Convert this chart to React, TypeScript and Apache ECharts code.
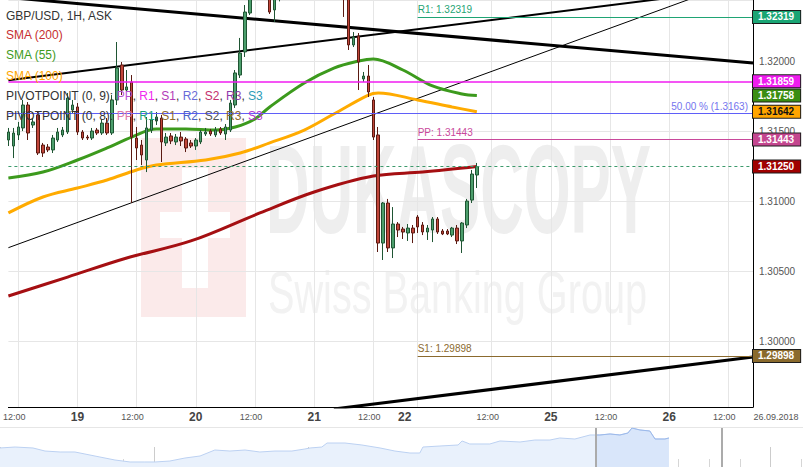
import React, { useEffect, useRef } from "react";
import * as echarts from "echarts";

const FONT = 'Arial, "Liberation Sans", Helvetica, sans-serif';

// Price window of the main pane
const PRICE_MIN = 1.29533;
const PRICE_MAX = 1.3244;

// Hourly slots on the main time axis (weekend hours removed)
const SLOT_COUNT = 152;
const LAST_SLOT = SLOT_COUNT - 1;
const slots = Array.from({ length: SLOT_COUNT }, (_, i) => String(i));

const tickSlots = [2, 14, 26, 38, 50, 62, 74, 83, 98, 110, 122, 134, 146];
const tickLabels = ["12:00", "19", "12:00", "20", "12:00", "21", "12:00", "22", "12:00", "25", "12:00", "26", "12:00"];
const dateStamp = "26.09.2018";

// GBP/USD 1H candles: [open, close, low, high]
const candles = [
  [1.3144, 1.31497, 1.31397, 1.31526],
  [1.31397, 1.3149, 1.31311, 1.31526],
  [1.31476, 1.31533, 1.3144, 1.31569],
  [1.31526, 1.3169, 1.31504, 1.31726],
  [1.3169, 1.3149, 1.3144, 1.31711],
  [1.31547, 1.31569, 1.31526, 1.31597],
  [1.31619, 1.31347, 1.31333, 1.3164],
  [1.31404, 1.31347, 1.31319, 1.31419],
  [1.3139, 1.31369, 1.31354, 1.31411],
  [1.31369, 1.31454, 1.31347, 1.31476],
  [1.3144, 1.31497, 1.31426, 1.31526],
  [1.31476, 1.31511, 1.31461, 1.31533],
  [1.31497, 1.3174, 1.31483, 1.31776],
  [1.31654, 1.3169, 1.31633, 1.31726],
  [1.31676, 1.31497, 1.31476, 1.31704],
  [1.31497, 1.31454, 1.3144, 1.31511],
  [1.31461, 1.31454, 1.3144, 1.31476],
  [1.31454, 1.31504, 1.3144, 1.31526],
  [1.31511, 1.3149, 1.31476, 1.31526],
  [1.3149, 1.31561, 1.31476, 1.31583],
  [1.31561, 1.3149, 1.31476, 1.31597],
  [1.3149, 1.31726, 1.31476, 1.31761],
  [1.31726, 1.31954, 1.3169, 1.3214],
  [1.31976, 1.31797, 1.31761, 1.31997],
  [1.31797, 1.31819, 1.31783, 1.3194],
  [1.31854, 1.31461, 1.3099, 1.31904],
  [1.31454, 1.31383, 1.31297, 1.31533],
  [1.31404, 1.31333, 1.31261, 1.3144],
  [1.31297, 1.31526, 1.31211, 1.31604],
  [1.31511, 1.31583, 1.3149, 1.31633],
  [1.31576, 1.31604, 1.31547, 1.3164],
  [1.31597, 1.31426, 1.31283, 1.31619],
  [1.31419, 1.31461, 1.31397, 1.3149],
  [1.31469, 1.31433, 1.31411, 1.3149],
  [1.31426, 1.31461, 1.31404, 1.31483],
  [1.31461, 1.31433, 1.31397, 1.31497],
  [1.31447, 1.31383, 1.31354, 1.31461],
  [1.31419, 1.31397, 1.31383, 1.3144],
  [1.31397, 1.3144, 1.31369, 1.31454],
  [1.31426, 1.31497, 1.31411, 1.31511],
  [1.31483, 1.31497, 1.31469, 1.31526],
  [1.31504, 1.31483, 1.31469, 1.31519],
  [1.31476, 1.31511, 1.31461, 1.31533],
  [1.31519, 1.3149, 1.31476, 1.31533],
  [1.31483, 1.31533, 1.3144, 1.31554],
  [1.31511, 1.31704, 1.31497, 1.31726],
  [1.3169, 1.31919, 1.31669, 1.3194],
  [1.31904, 1.32061, 1.31883, 1.32169],
  [1.32069, 1.32354, 1.32033, 1.32404],
  [1.32347, 1.32476, 1.32333, 1.32583],
  [1.32476, 1.3262, 1.3245, 1.3268],
  [1.3262, 1.3275, 1.3259, 1.328],
  [1.3275, 1.32511, 1.3249, 1.3279],
  [1.32511, 1.32354, 1.3234, 1.32619],
  [1.32369, 1.32454, 1.32283, 1.32526],
  [1.32454, 1.3256, 1.3243, 1.3261],
  [1.3256, 1.327, 1.3254, 1.3274],
  [1.327, 1.3285, 1.3268, 1.329],
  [1.3285, 1.3293, 1.328, 1.3298],
  [1.3293, 1.3281, 1.3278, 1.3296],
  [1.3281, 1.3275, 1.327, 1.3286],
  [1.3275, 1.3268, 1.3264, 1.3279],
  [1.3268, 1.3272, 1.3265, 1.3277],
  [1.3272, 1.326, 1.3257, 1.3275],
  [1.326, 1.3255, 1.325, 1.3264],
  [1.3255, 1.3262, 1.3252, 1.3266],
  [1.3262, 1.3258, 1.3254, 1.3265],
  [1.3258, 1.3262, 1.3253, 1.3268],
  [1.3262, 1.325, 1.32319, 1.3265],
  [1.32497, 1.32119, 1.32083, 1.32511],
  [1.32119, 1.32176, 1.32104, 1.32211],
  [1.32183, 1.31997, 1.31797, 1.32204],
  [1.31876, 1.31897, 1.31854, 1.31926],
  [1.31897, 1.31783, 1.31747, 1.31976],
  [1.31726, 1.31461, 1.3144, 1.31747],
  [1.31476, 1.30704, 1.3064, 1.31533],
  [1.30704, 1.3099, 1.30583, 1.30997],
  [1.3099, 1.30669, 1.3064, 1.31019],
  [1.30669, 1.3084, 1.30597, 1.30961],
  [1.3084, 1.30797, 1.30747, 1.30854],
  [1.30804, 1.30783, 1.30733, 1.30819],
  [1.30776, 1.30811, 1.30719, 1.3084],
  [1.30811, 1.30776, 1.30704, 1.30833],
  [1.3089, 1.30819, 1.30776, 1.30904],
  [1.30833, 1.30783, 1.30761, 1.30854],
  [1.30783, 1.30811, 1.30726, 1.30833],
  [1.30797, 1.30876, 1.30711, 1.3089],
  [1.30876, 1.30783, 1.30769, 1.3089],
  [1.3079, 1.30769, 1.30761, 1.30804],
  [1.3079, 1.30769, 1.30761, 1.30804],
  [1.30761, 1.30811, 1.30747, 1.30819],
  [1.30811, 1.30719, 1.30697, 1.30833],
  [1.30719, 1.30847, 1.30633, 1.30854],
  [1.30833, 1.31004, 1.30811, 1.31019],
  [1.31011, 1.31197, 1.3099, 1.31226],
  [1.3119, 1.3125, 1.31097, 1.31276],
];

// Moving averages as [slot, price]
const sma200Points = [
  [0, 1.30326], [12, 1.30461], [24, 1.30597], [37, 1.30719], [51, 1.30919],
  [62, 1.31069], [74, 1.31183], [84, 1.31211], [95, 1.3125],
];
const sma55Points = [
  [0, 1.31169], [7, 1.31211], [14, 1.31297], [20, 1.31383], [25, 1.31461], [30, 1.31519],
  [36, 1.31519], [42, 1.31511], [46, 1.31533], [50, 1.3159], [53, 1.31676], [60, 1.31847],
  [66, 1.31954], [71, 1.32004], [74, 1.32019], [80, 1.3194], [86, 1.31826], [92, 1.31769],
  [95, 1.31758],
];
const sma100Points = [
  [0, 1.30919], [7, 1.31033], [14, 1.31097], [20, 1.31154], [26, 1.31226], [30, 1.31261],
  [40, 1.31297], [47, 1.31347], [53, 1.31419], [60, 1.31511], [66, 1.31626], [73, 1.31761],
  [75, 1.31776], [83, 1.31726], [90, 1.31676], [95, 1.31642],
];

// Hand-drawn trend lines as [slot, price] end points
const trendUpperThick = [[0, 1.32458], [LAST_SLOT, 1.3199]];
const trendUpperMedium = [[0, 1.31867], [LAST_SLOT, 1.3253]];
const trendChannelThin = [[0, 1.30671], [LAST_SLOT, 1.32611]];
const trendLowerThick = [[66, 1.29519], [LAST_SLOT, 1.2989]];

// Horizontal levels
const PIVOT_START = 83;
const LEVEL_R1 = 1.32319;
const LEVEL_PP = 1.31443;
const LEVEL_S1 = 1.29898;
const LEVEL_PIVOT_OLD = 1.31859;
const LEVEL_FIB50 = 1.3163;
const LAST_PRICE = 1.3125;

// Navigator history: trading day -> price
const navDays = [
  0, 0.49, 1.07, 1.46, 1.95, 2.43, 3.24, 3.73, 4.22, 4.7, 5.03, 5.51, 6.0, 6.49, 6.97, 7.46,
  7.95, 8.43, 8.92, 9.47, 9.89, 10.06, 10.44, 10.61, 11.19, 11.74, 12.33, 12.81, 13.3, 13.62,
  13.72, 14.27, 14.86, 14.99, 15.24, 15.89, 16.22, 16.87, 17.35, 17.84, 18.16, 18.65, 19.14,
  19.33, 19.46, 19.79, 20.11, 20.37, 20.5, 20.76, 21.08, 21.25, 21.57, 21.7,
];
const navPrices = [
  1.2926, 1.2944, 1.2926, 1.2869, 1.2851, 1.2851, 1.2757, 1.2701, 1.2664, 1.2664, 1.2664,
  1.2682, 1.2738, 1.2776, 1.2888, 1.2869, 1.2888, 1.2851, 1.2869, 1.2869, 1.2907, 1.2926,
  1.2944, 1.3019, 1.3019, 1.2982, 1.2926, 1.2869, 1.2832, 1.2832, 1.2944, 1.2963, 1.2982,
  1.3057, 1.3001, 1.3001, 1.3057, 1.3038, 1.3075, 1.3075, 1.3113, 1.3094, 1.3169, 1.3169,
  1.3169, 1.3188, 1.3169, 1.3206, 1.33, 1.3263, 1.3244, 1.3094, 1.3094, 1.3113,
];
const NAV_WINDOW_START = 19.33;
const NAV_WINDOW_END = 23.42;
const NAV_DAY_MAX = 26.05;

const last = (pts: number[][]) => pts[pts.length - 1][1];

function buildOption() {
  const navPoints = navDays.map((d, i) => [d, navPrices[i]]);
  const navWindow = navPoints.filter((p) => p[0] >= NAV_WINDOW_START);

  const tag = (value: number, bg: string, color = "#fff") => ({
    yAxis: value,
    lineStyle: { color: "rgba(0,0,0,0)", width: 1 },
    label: {
      show: true,
      position: "end",
      distance: 0,
      formatter: value.toFixed(5),
      backgroundColor: bg,
      color,
      borderColor: "#1c1c1c",
      borderWidth: 1,
      padding: [1, 6, 0, 5],
      fontSize: 10,
      lineHeight: 11,
      fontWeight: "bold",
      fontFamily: FONT,
    },
  });
  const pivotSegment = (value: number, color: string, name: string) => [
    {
      coord: [PIVOT_START, value],
      lineStyle: { color, width: 1, type: "solid" },
      label: {
        show: true,
        position: "insideStartTop",
        distance: [0, 2],
        formatter: `${name}: ${value.toFixed(5)}`,
        color,
        fontSize: 10,
        fontFamily: FONT,
      },
    },
    { coord: [LAST_SLOT, value] },
  ];

  const legendRow = (top: number, text: string, color: string) => ({
    text,
    left: 6,
    top,
    padding: 0,
    textStyle: { fontSize: 12, fontWeight: "normal", color, fontFamily: FONT, lineHeight: 14 },
  });
  const pivotRow = (top: number, prefix: string, colors: string[]) => {
    const names = ["PP", "R1", "S1", "R2", "S2", "R3", "S3"];
    const rich: Record<string, any> = { a: { color: "#333", fontSize: 12, fontFamily: FONT, lineHeight: 14 } };
    names.forEach((_, i) => {
      rich["c" + i] = { color: colors[i], fontSize: 12, fontFamily: FONT, lineHeight: 14 };
    });
    const text = "{a|" + prefix + "}" + names.map((n, i) => `{c${i}|${n}}`).join("{a|, }");
    return { text, left: 6, top, padding: 0, textStyle: { fontSize: 12, fontWeight: "normal", rich } };
  };

  const trend = (data: number[][], width: number) => ({
    type: "line",
    data,
    showSymbol: false,
    symbol: "none",
    silent: true,
    z: 3,
    lineStyle: { color: "#000", width },
  });
  const sma = (data: number[][], color: string) => ({
    type: "line",
    data,
    smooth: 0.35,
    showSymbol: false,
    symbol: "none",
    silent: true,
    z: 3,
    lineStyle: { color, width: 3 },
  });

  return {
    animation: false,
    textStyle: { fontFamily: FONT },
    title: [
      legendRow(9, "GBP/USD, 1H, ASK", "#333"),
      legendRow(28, "SMA (200)", "#c62f2f"),
      legendRow(48, "SMA (55)", "#3e9b1c"),
      legendRow(69, "SMA (100)", "#ffa500"),
      pivotRow(89, "PIVOTPOINT (0, 9): ", ["#b84fd4", "#f028f0", "#b23bb8", "#6a6ad8", "#c42f6d", "#8e3caa", "#2b9cb8"]),
      pivotRow(109, "PIVOTPOINT (0, 8): ", ["#e07aa8", "#1aa37a", "#8b6a2e", "#4d62c2", "#555555", "#8b6a2e", "#b23cd0"]),
    ],
    graphic: [
      // watermark
      { type: "rect", z: -2, silent: true, shape: { x: 141, y: 138, width: 105, height: 179 }, style: { fill: "#fbeaea" } },
      { type: "rect", z: -2, silent: true, shape: { x: 182, y: 168, width: 26, height: 120 }, style: { fill: "#ffffff" } },
      { type: "rect", z: -2, silent: true, shape: { x: 160, y: 212, width: 70, height: 26 }, style: { fill: "#ffffff" } },
      {
        type: "text", z: -1, silent: true, x: 266, y: 190, scaleX: 0.478,
        style: { text: "DUKASCOPY", font: `bold 126px ${FONT}`, fill: "#eeeeee", textAlign: "left", verticalAlign: "middle", textVerticalAlign: "middle" },
      },
      {
        type: "text", z: -1, silent: true, x: 268, y: 292, scaleX: 0.661,
        style: { text: "Swiss Banking Group", font: `60px ${FONT}`, fill: "#f2f2f2", textAlign: "left", verticalAlign: "middle", textVerticalAlign: "middle" },
      },
      {
        type: "text", silent: true, x: 776, y: 417,
        style: { text: dateStamp, font: `9px ${FONT}`, fill: "#555", textAlign: "center", verticalAlign: "middle", textVerticalAlign: "middle" },
      },
      { type: "line", silent: true, shape: { x1: 0, y1: 427.5, x2: 803, y2: 427.5 }, style: { stroke: "#e6e6e6", lineWidth: 1 } },
    ],
    grid: [
      { left: -2, right: 50, top: 0, bottom: 60 },
      { left: 0, right: 0, top: 428, height: 39 },
    ],
    xAxis: [
      {
        type: "category",
        gridIndex: 0,
        data: slots,
        boundaryGap: false,
        axisLine: { lineStyle: { color: "#000", width: 1 } },
        axisTick: { show: false },
        splitLine: {
          show: true,
          interval: (i: number) => tickSlots.includes(i),
          lineStyle: { color: "#e6e6e6", width: 1 },
        },
        axisLabel: {
          interval: (i: number) => tickSlots.includes(i),
          margin: 2,
          formatter: (_v: string, i: number) => {
            const k = tickSlots.indexOf(i);
            if (k < 0) return "";
            const t = tickLabels[k];
            if (t === "22") return `{d2|${t}}`;
            return t.includes(":") ? `{t|${t}}` : `{d|${t}}`;
          },
          rich: {
            d: { fontSize: 12, fontWeight: "bold", color: "#444", lineHeight: 16, fontFamily: FONT },
            d2: { fontSize: 12, fontWeight: "bold", color: "#444", lineHeight: 16, fontFamily: FONT, padding: [0, 26, 0, 0] },
            t: { fontSize: 9, color: "#555", lineHeight: 16, fontFamily: FONT, padding: [0, 8, 0, 0] },
          },
        },
      },
      {
        type: "value", gridIndex: 1, position: "bottom", min: 0, max: NAV_DAY_MAX, interval: 1,
        axisLine: { show: false }, axisLabel: { show: false }, splitLine: { show: false },
        axisTick: { show: true, inside: true, length: 8, lineStyle: { color: "#d6d6d6" } },
      },
      {
        type: "value", gridIndex: 1, position: "bottom", min: 0, max: NAV_DAY_MAX, interval: 5,
        axisLine: { show: false }, axisLabel: { show: false }, splitLine: { show: false },
        axisTick: { show: true, inside: true, length: 20, lineStyle: { color: "#cccccc" } },
      },
    ],
    yAxis: [
      {
        type: "value",
        gridIndex: 0,
        position: "right",
        min: PRICE_MIN,
        max: PRICE_MAX,
        axisLine: { show: true, lineStyle: { color: "#000", width: 1 } },
        axisTick: { show: false },
        splitLine: { lineStyle: { color: "#e6e6e6" } },
        axisLabel: {
          margin: 6,
          fontSize: 10,
          color: "#555",
          formatter: (v: number) => (Math.abs(v * 200 - Math.round(v * 200)) < 1e-6 ? v.toFixed(5) : ""),
        },
      },
      { type: "value", gridIndex: 1, min: 1.257, max: 1.33, show: false },
    ],
    series: [
      // level lines behind the price action
      {
        type: "line",
        data: [],
        silent: true,
        z: 1,
        markLine: {
          silent: true,
          precision: 5,
          symbol: ["none", "none"],
          animation: false,
          label: { show: false },
          data: [
            { yAxis: LEVEL_PIVOT_OLD, lineStyle: { color: "#f01cf0", width: 1.5, type: "solid" } },
            {
              yAxis: LEVEL_FIB50,
              lineStyle: { color: "#5f5ff8", width: 1, type: "solid" },
              label: {
                show: true,
                position: "insideEndTop",
                distance: [5, 2],
                formatter: `50.00 % (${LEVEL_FIB50.toFixed(4)})`,
                color: "#7474ee",
                fontSize: 10,
                fontFamily: FONT,
              },
            },
            { yAxis: LAST_PRICE, lineStyle: { color: "#3d9a6c", width: 1, type: [3, 3] } },
            pivotSegment(LEVEL_R1, "#1fa474", "R1"),
            pivotSegment(LEVEL_PP, "#c9489b", "PP"),
            pivotSegment(LEVEL_S1, "#8b6a2e", "S1"),
          ],
        },
      },
      trend(trendUpperThick, 3),
      trend(trendUpperMedium, 2),
      trend(trendChannelThin, 1),
      trend(trendLowerThick, 3),
      sma(sma200Points, "#a50f12"),
      sma(sma100Points, "#ffab00"),
      sma(sma55Points, "#3c9a1d"),
      {
        type: "candlestick",
        data: candles,
        barWidth: 3,
        silent: true,
        z: 4,
        itemStyle: {
          color: "#4c9e6c",
          color0: "#c1463a",
          borderColor: "#1f5533",
          borderColor0: "#5a1a12",
          borderWidth: 1,
        },
      },
      // price tags on the right scale
      {
        type: "line",
        data: [],
        silent: true,
        z: 10,
        markLine: {
          silent: true,
          precision: 5,
          symbol: ["none", "none"],
          animation: false,
          data: [
            tag(LEVEL_R1, "#1aa574"),
            tag(LEVEL_PIVOT_OLD, "#ee1cee"),
            tag(last(sma55Points), "#3a8e12"),
            tag(last(sma100Points), "#ffa500", "#111"),
            tag(LEVEL_PP, "#c4468f"),
            tag(last(sma200Points), "#a00000"),
            tag(LEVEL_S1, "#8a6a2c"),
          ],
        },
      },
      // navigator
      {
        type: "line",
        xAxisIndex: 1,
        yAxisIndex: 1,
        data: navPoints,
        showSymbol: false,
        symbol: "none",
        silent: true,
        lineStyle: { color: "#bcd1f2", width: 1 },
        areaStyle: { color: "#e9f1fc", origin: "start", opacity: 1 },
      },
      {
        type: "line",
        xAxisIndex: 1,
        yAxisIndex: 1,
        data: navWindow,
        showSymbol: false,
        symbol: "none",
        silent: true,
        lineStyle: { color: "#9cb9ea", width: 1 },
        areaStyle: { color: "#d9e6fa", origin: "start", opacity: 1 },
        markLine: {
          silent: true,
          symbol: ["none", "none"],
          animation: false,
          label: { show: false },
          lineStyle: { color: "#ababab", width: 2, type: "solid" },
          data: [{ xAxis: NAV_WINDOW_START }, { xAxis: NAV_WINDOW_END }],
        },
      },
    ],
  };
}

export default function App() {
  const ref = useRef<HTMLDivElement>(null);
  useEffect(() => {
    if (!ref.current) return;
    const chart = echarts.init(ref.current, null, { renderer: "svg" });
    chart.setOption(buildOption() as any);
    return () => chart.dispose();
  }, []);
  return (
    <div
      ref={ref}
      style={{ position: "fixed", left: 0, top: 0, width: 803, height: 467, background: "#fff" }}
    />
  );
}
